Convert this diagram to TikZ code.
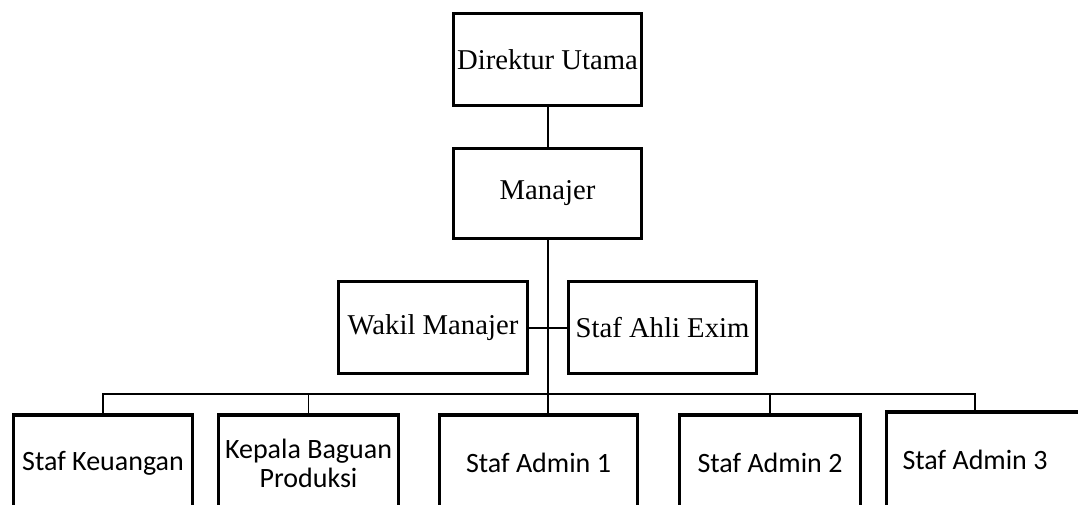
\documentclass[tikz,border=0pt]{standalone}
\usepackage{fontspec}
\newfontfamily\serifF{Liberation Serif}
\newfontfamily\calF{Carlito}
\begin{document}
\begin{tikzpicture}[x=1pt,y=-1pt,
  box/.style={draw, line width=3.3pt, inner sep=0pt},
  topbox/.style={box, minimum width=188pt, minimum height=92pt, font=\serifF\fontsize{28.7}{33}\selectfont},
  lowbox/.style={box, minimum height=96pt, font=\calF\fontsize{28}{29}\selectfont, align=center},
  lowtext/.style={font=\calF\fontsize{28}{29}\selectfont, inner sep=0pt},
  link/.style={line width=2pt},
  busline/.style={line width=1.6pt}]
\useasboundingbox (0,0) rectangle (1078,505);
\clip (0,0) rectangle (1078,505);
% upper boxes
\node[topbox] (dir) at (547.5,59.5) {Direktur Utama};
\node[topbox, minimum height=90pt] (man) at (547.5,193.5) {Manajer};
\node[topbox, minimum width=189pt] (wak) at (433,327.5) {Wakil Manajer};
\node[topbox] (exim) at (662.5,327.5) {Staf Ahli Exim};
% lower boxes
\node[lowbox, minimum width=179pt] (keu) at (103,463) {Staf Keuangan};
\node[lowbox, minimum width=180pt] (kep) at (308.5,463) {Kepala Baguan\\Produksi};
\node[lowbox, minimum width=198pt] (adm1) at (538.5,463) {Staf Admin 1};
\node[lowbox, minimum width=181pt] (adm2) at (770,463) {Staf Admin 2};
\node[box, minimum width=230pt, minimum height=96pt, anchor=west] (adm3) at (884.5,460) {};
\node[lowtext] (adm3t) at (975,460) {Staf Admin 3};
% connectors
\draw[link] (dir.south) -- (man.north);
\draw[link] (man.south) -- (man.south |- adm1.north);
\draw[link] (wak.east) -- (exim.west);
\coordinate (bus) at (547.5,394);
\draw[busline] (keu.north) -- (keu.north |- bus) -- (adm3t.north |- bus) -- (adm3t.north |- adm3.north);
\draw[busline] (kep.north) -- (kep.north |- bus);
\draw[busline] (adm2.north) -- (adm2.north |- bus);
\end{tikzpicture}
\end{document}
